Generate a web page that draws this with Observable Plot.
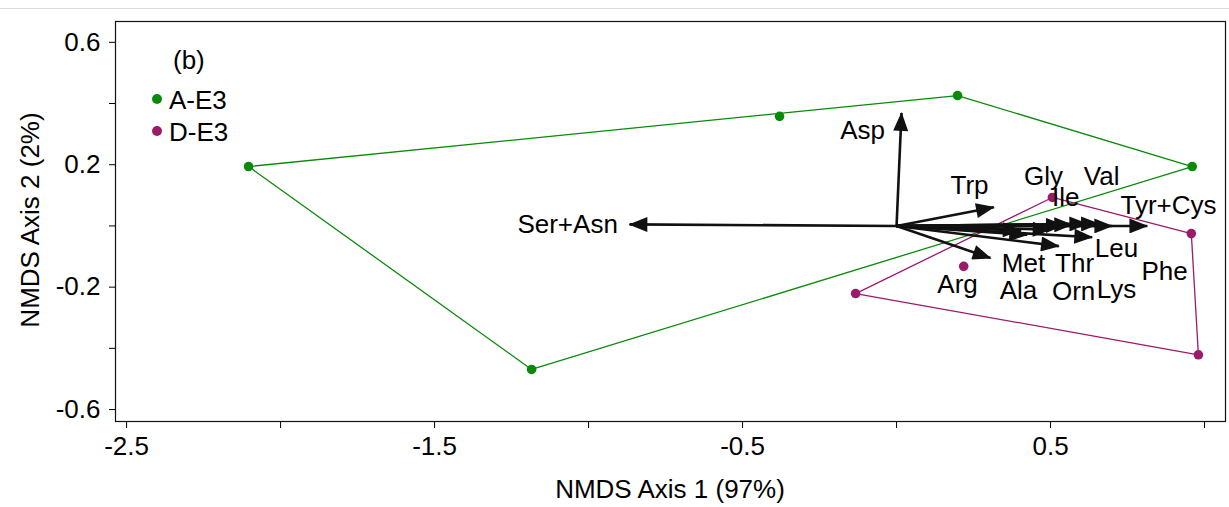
<!DOCTYPE html>
<html>
<head>
<meta charset="utf-8">
<script src="https://cdn.jsdelivr.net/npm/d3@7"></script>
<script src="https://cdn.jsdelivr.net/npm/@observablehq/plot@0.6"></script>
<style>
  html, body { margin: 0; padding: 0; background: #fff; }
  #wrap { position: relative; width: 1229px; height: 507px; font-family: "Liberation Sans", Arial, sans-serif; }
  #topline { position: absolute; left: 0; top: 8px; width: 1229px; height: 0; border-top: 1px solid #dcdcdc; }
  #chart { position: absolute; left: 0; top: 0; }
  .leg { position: absolute; font-size: 26px; color: #000; line-height: 1; white-space: nowrap; }
  .dot { position: absolute; width: 10px; height: 10px; border-radius: 50%; }
</style>
</head>
<body>
<div id="wrap">
  <div id="topline"></div>
  <div id="chart"></div>
  <div class="leg" style="left:173px; top:47px;">(b)</div>
  <div class="dot" style="left:152px; top:94px; background:#0a8a0a;"></div>
  <div class="leg" style="left:169px; top:87px;">A-E3</div>
  <div class="dot" style="left:152px; top:126px; background:#9b1b6b;"></div>
  <div class="leg" style="left:169px; top:119px;">D-E3</div>
</div>
<script>
// Site scores
const groupNames = ["A-E3", "D-E3"];
const groupColors = ["#0a8a0a", "#9b1b6b"];
const aeX = [-2.104, -1.185, -0.380, 0.198, 0.960];
const aeY = [0.194, -0.469, 0.358, 0.426, 0.194];
const deX = [0.506, 0.957, 0.980, -0.133, 0.218];
const deY = [0.093, -0.025, -0.421, -0.221, -0.132];

// Amino-acid vectors (arrow tips)
const aaNames = ["Asp", "Ser+Asn", "Trp", "Met", "Thr", "Leu", "Tyr+Cys", "Arg", "Ala", "Orn", "Gly", "Ile", "Lys", "Val", "Phe"];
const aaX = [0.016, -0.867, 0.316, 0.305, 0.527, 0.635, 0.814, 0.403, 0.424, 0.500, 0.543, 0.570, 0.619, 0.657, 0.700];
const aaY = [0.369, 0.005, 0.061, -0.105, -0.066, -0.037, 0.000, -0.015, -0.029, -0.012, 0.002, 0.004, 0.007, 0.007, 0.000];
// Label positions (as placed in the figure)
const labX = [-0.110, -1.068, 0.237, 0.412, 0.578, 0.714, 0.883, 0.198, 0.396, 0.575, 0.477, 0.549, 0.714, 0.666, 0.870];
const labY = [0.312, 0.005, 0.132, -0.123, -0.123, -0.074, 0.067, -0.191, -0.211, -0.214, 0.162, 0.093, -0.208, 0.162, -0.149];

// Axis ticks
const xTicks = [-2.5, -2, -1.5, -1, -0.5, 0, 0.5, 1];
const xTickLabels = ["-2.5", "", "-1.5", "", "-0.5", "", "0.5", ""];
const yTicks = [0.6, 0.4, 0.2, 0, -0.2, -0.4, -0.6];
const yTickLabels = ["0.6", "", "0.2", "", "-0.2", "", "-0.6"];

const sites = [
  ...aeX.map((x, i) => ({group: groupNames[0], x, y: aeY[i]})),
  ...deX.map((x, i) => ({group: groupNames[1], x, y: deY[i]}))
];
const hulls = groupNames.flatMap(g => {
  const pts = sites.filter(d => d.group === g).map(d => [d.x, d.y]);
  const h = d3.polygonHull(pts);
  return [...h, h[0]].map(p => ({group: g, x: p[0], y: p[1]}));
});
const vecs = aaNames.map((n, i) => ({name: n, x: aaX[i], y: aaY[i], lx: labX[i], ly: labY[i]}));

const svg = Plot.plot({
  width: 1229,
  height: 507,
  marginLeft: 115,
  marginRight: 4,
  marginTop: 21,
  marginBottom: 86,
  style: {fontFamily: "'Liberation Sans', Arial, sans-serif", fontSize: "26px", color: "#000", background: "transparent"},
  x: {domain: [-2.536, 1.068], ticks: xTicks, tickFormat: d => xTickLabels[xTicks.indexOf(d)] ?? "", tickSize: 7, tickPadding: 8, label: null},
  y: {domain: [-0.639, 0.668], ticks: yTicks, tickFormat: d => yTickLabels[yTicks.findIndex(t => Math.abs(t - d) < 1e-9)] ?? "", tickSize: 6, tickPadding: 9, label: null},
  color: {domain: groupNames, range: groupColors},
  marks: [
    Plot.frame({stroke: "#111", strokeWidth: 1.2}),
    Plot.line(hulls, {x: "x", y: "y", z: "group", stroke: "group", strokeWidth: 1.3}),
    Plot.dot(sites, {x: "x", y: "y", fill: "group", r: 4.8}),
    Plot.link(vecs, {x1: 0, y1: 0, x2: "x", y2: "y", stroke: "#111", strokeWidth: 2.6}),
    Plot.text(vecs, {x: "lx", y: "ly", text: "name", fill: "#000", fontSize: 26, textAnchor: "middle"})
  ]
});

// Filled arrowheads on the vectors
const s = d3.select(svg);
const defs = s.insert("defs", ":first-child");
defs.append("marker")
  .attr("id", "ah")
  .attr("viewBox", "0 0 20 16")
  .attr("refX", 19)
  .attr("refY", 8)
  .attr("markerWidth", 20)
  .attr("markerHeight", 15)
  .attr("markerUnits", "userSpaceOnUse")
  .attr("orient", "auto")
  .append("path")
  .attr("d", "M0,0L20,8L0,16Z")
  .attr("fill", "#111");
s.selectAll('g[aria-label="link"] path').attr("marker-end", "url(#ah)");

// Axis titles
const ns = "http://www.w3.org/2000/svg";
const xt = document.createElementNS(ns, "text");
xt.setAttribute("x", 670); xt.setAttribute("y", 498);
xt.setAttribute("text-anchor", "middle"); xt.setAttribute("font-size", "26");
xt.setAttribute("fill", "#000");
xt.textContent = "NMDS Axis 1 (97%)";
svg.appendChild(xt);
const yt = document.createElementNS(ns, "text");
yt.setAttribute("transform", "translate(39,220) rotate(-90)");
yt.setAttribute("text-anchor", "middle"); yt.setAttribute("font-size", "26");
yt.setAttribute("fill", "#000");
yt.textContent = "NMDS Axis 2 (2%)";
svg.appendChild(yt);

document.getElementById("chart").appendChild(svg);
</script>
</body>
</html>
